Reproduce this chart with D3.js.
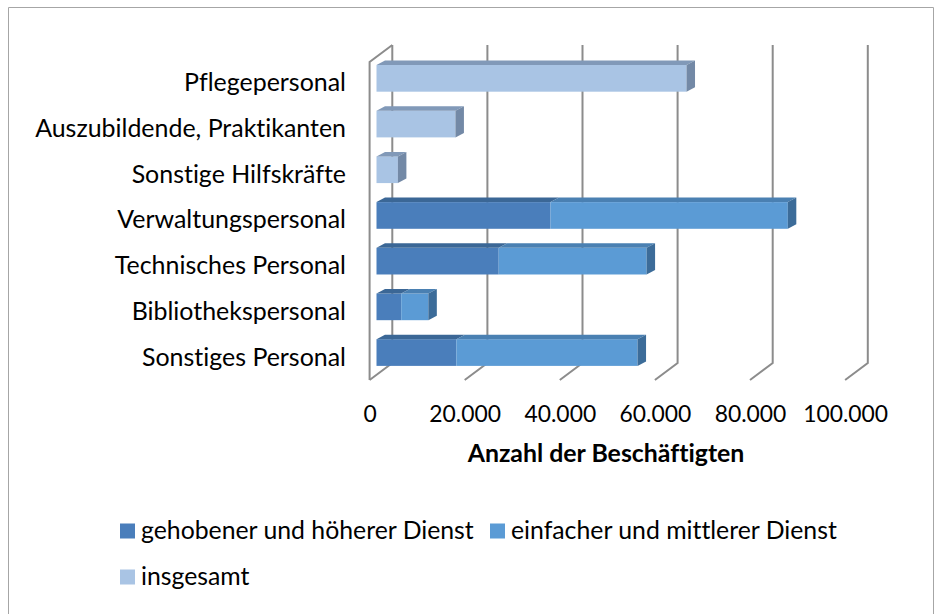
<!DOCTYPE html>
<html>
<head>
<meta charset="utf-8">
<script src="https://cdn.jsdelivr.net/npm/d3@7/dist/d3.min.js"></script>
<style>
html,body{margin:0;padding:0;background:#fff;}
svg{display:block;}
text{font-variant-ligatures:none;}
</style>
</head>
<body>
<svg id="chart" width="941" height="614"></svg>
<script>
// ---- data ----
const categories = ["Pflegepersonal","Auszubildende, Praktikanten","Sonstige Hilfskräfte","Verwaltungspersonal","Technisches Personal","Bibliothekspersonal","Sonstiges Personal"];
const gehoben   = [0, 0, 0, 36600, 25700, 5200, 16800];
const einfach   = [0, 0, 0, 49900, 31100, 5700, 38100];
const insgesamt = [65200, 16600, 4500, 0, 0, 0, 0];
const tickValues = [0, 20000, 40000, 60000, 80000, 100000];
const seriesNames = ["gehobener und höherer Dienst","einfacher und mittlerer Dienst","insgesamt"];
const axisTitle = "Anzahl der Beschäftigten";

// ---- layout ----
const F = "Lato, 'Open Sans', sans-serif";
const svg = d3.select("#chart");
const FRONT0 = 369.6, BACK0 = 392.3, BAR0 = 376.5;
const TOP_BACK = 45, FLOOR_BACK = 363, TOP_FRONT = 62, FLOOR_FRONT = 380;
const BDX = 8.5, BDY = -4.5;

const x = d3.scaleLinear().domain([0, 100000]).range([0, 475.5]);
const step = 45.7;
const y = d3.scaleBand().domain(categories)
  .range([65 - 0.208*step, 65 - 0.208*step + categories.length*step])
  .paddingInner(0.416).paddingOuter(0.208);

const fmt = d3.formatLocale({decimal: ",", thousands: ".", grouping: [3], currency: ["", "€"]}).format(",");

function fit(str, weight, target) {
  const t = svg.append("text").attr("font-family", F).attr("font-weight", weight)
    .attr("font-size", 100).text(str);
  const w = t.node().getComputedTextLength();
  t.remove();
  return 100 * target / w;
}
const catSize = fit("Auszubildende, Praktikanten", "normal", 311);
const tickSize = fit("100.000", "normal", 85);
const legSize = fit(seriesNames[0], "normal", 333);
const titleSize = fit(axisTitle, "bold", 277);

// frame
svg.append("path").attr("d", "M8.5,640 L8.5,7.5 L933.5,7.5 L933.5,640")
  .attr("fill", "none").attr("stroke", "#a6a6a6").attr("stroke-width", 1);

// walls / gridlines
const grid = svg.append("g").attr("fill", "none").attr("stroke", "#8c8c8c").attr("stroke-width", 2);
grid.selectAll("path.g").data(tickValues).join("path").attr("class", "g")
  .attr("d", t => `M${BACK0 + x(t)},${TOP_BACK} L${BACK0 + x(t)},${FLOOR_BACK} L${FRONT0 + x(t)},${FLOOR_FRONT}`);
grid.append("path").attr("d", `M${FRONT0},${FLOOR_FRONT} L${FRONT0},${TOP_FRONT} L${BACK0},${TOP_BACK}`);

// bars
const colors = [
  {front: "#4a7ebb", top: "#3b6796", side: "#355e8b"},
  {front: "#5b9bd5", top: "#4a80b2", side: "#3c6c99"},
  {front: "#a9c4e4", top: "#8199b8", side: "#7389a6"}
];
const barsG = svg.append("g");
categories.forEach((c, i) => {
  const vals = [gehoben[i], einfach[i], insgesamt[i]];
  const y0 = y(c), h = y.bandwidth();
  let acc = 0;
  const segs = [];
  vals.forEach((v, s) => { if (v > 0) { segs.push({s, v0: acc, v1: acc + v}); acc += v; } });
  segs.forEach((sg, k) => {
    const xa = BAR0 + x(sg.v0), xb = BAR0 + x(sg.v1);
    const col = colors[sg.s];
    barsG.append("rect").attr("x", xa).attr("y", y0).attr("width", xb - xa).attr("height", h)
      .attr("fill", col.front);
    barsG.append("path")
      .attr("d", `M${xa},${y0} L${xb},${y0} L${xb + BDX},${y0 + BDY} L${xa + BDX},${y0 + BDY} Z`)
      .attr("fill", col.top);
    if (k === segs.length - 1) {
      barsG.append("path")
        .attr("d", `M${xb},${y0} L${xb + BDX},${y0 + BDY} L${xb + BDX},${y0 + h + BDY} L${xb},${y0 + h} Z`)
        .attr("fill", col.side);
    }
  });
});

// category axis
const yAxis = svg.append("g").attr("transform", `translate(346,0)`)
  .call(d3.axisLeft(y).tickSize(0).tickPadding(0));
yAxis.select(".domain").remove();
yAxis.selectAll("text").attr("font-family", F).attr("font-size", catSize)
  .attr("fill", "#000").attr("dy", null).attr("x", 0)
  .attr("y", 13).attr("text-anchor", "end");

// value axis labels
const xAxis = svg.append("g").attr("transform", `translate(${FRONT0},0)`)
  .call(d3.axisBottom(x).tickValues(tickValues).tickFormat(fmt).tickSize(0));
xAxis.select(".domain").remove();
xAxis.selectAll("text").attr("font-family", F).attr("font-size", tickSize)
  .attr("fill", "#000").attr("dy", null).attr("y", 422.3).attr("text-anchor", "middle");

// axis title
svg.append("text").attr("x", 606).attr("y", 461.7).attr("text-anchor", "middle")
  .attr("font-family", F).attr("font-weight", "bold").attr("font-size", titleSize)
  .attr("fill", "#000").text(axisTitle);

// legend
const legItems = [
  {name: seriesNames[0], col: colors[0].front, x: 120, y: 523.5},
  {name: seriesNames[1], col: colors[1].front, x: 490, y: 523.5},
  {name: seriesNames[2], col: colors[2].front, x: 120, y: 569.5}
];
const lg = svg.append("g");
legItems.forEach(d => {
  lg.append("rect").attr("x", d.x).attr("y", d.y).attr("width", 15).attr("height", 15).attr("fill", d.col);
  lg.append("text").attr("x", d.x + 21).attr("y", d.y + 15.5).attr("font-family", F)
    .attr("font-size", legSize).attr("fill", "#000").text(d.name);
});
</script>
</body>
</html>
